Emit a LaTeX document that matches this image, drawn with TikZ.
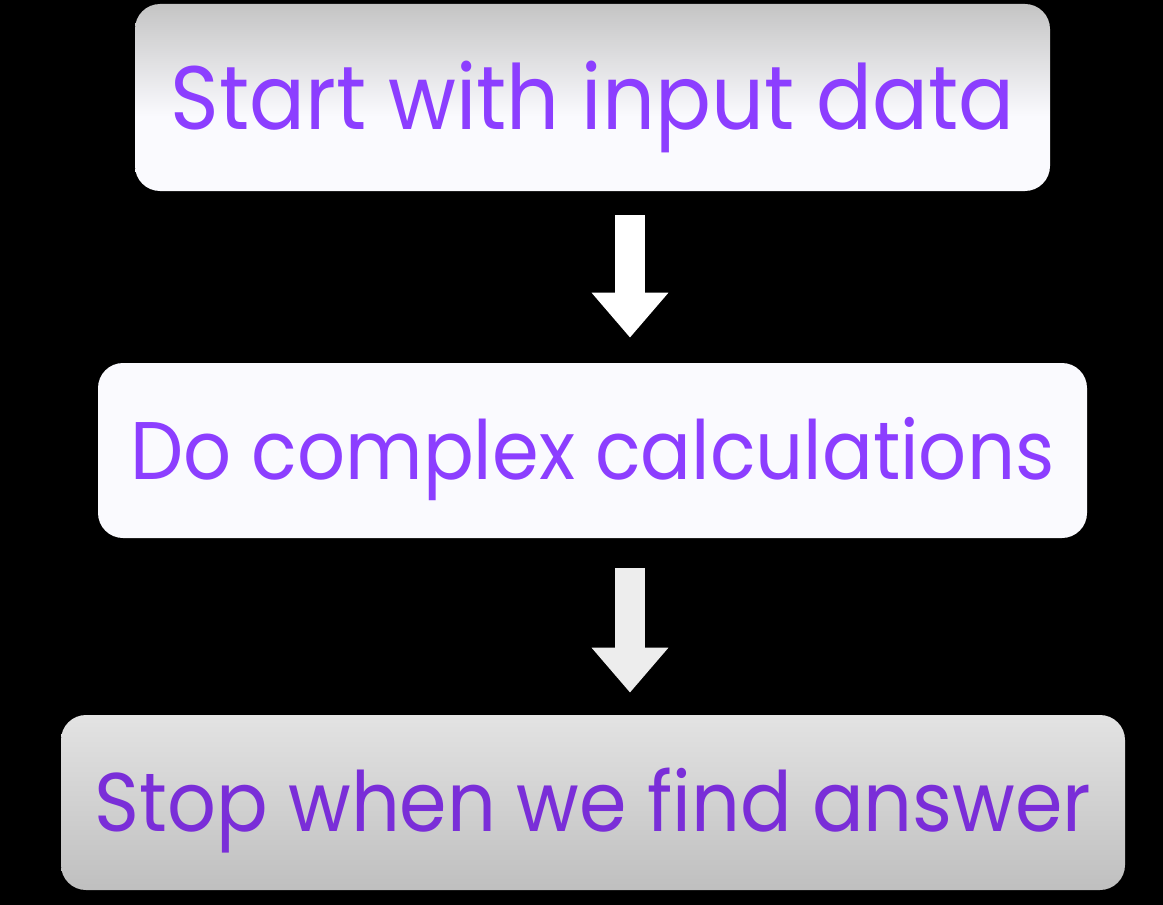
\documentclass[tikz,border=0pt]{standalone}
\usepackage{fontspec}
\setmainfont{Poppins}[FakeStretch=0.92]
\usetikzlibrary{arrows.meta}
\definecolor{boxpurple}{RGB}{140,62,255}
\definecolor{darkpurple}{RGB}{122,46,216}
\definecolor{offwhite}{RGB}{250,250,254}
\pgfdeclareverticalshading{topfade}{100bp}{color(0bp)=(offwhite); color(25bp)=(offwhite); color(45bp)=(offwhite); color(75bp)=(black!23); color(100bp)=(black!23)}
\begin{document}
\begin{tikzpicture}[>={Triangle[width=1.48cm,length=0.9cm]},
		stepbox/.style={rounded corners=0.5cm,inner sep=0pt,text=boxpurple,text depth=0pt},
		blockarrow/.style={->,line width=0.6cm}]
			\fill[black] (0,0) rectangle (23.26,-18.1);
			\node[stepbox,shading=topfade,font=\fontsize{51.2}{60}\selectfont,text height=36pt,minimum width=18.3cm,minimum height=3.74cm] (start) at (11.85,-1.95) {Start with input data};
			\node[stepbox,fill=offwhite,font=\fontsize{46.5}{56}\selectfont,text height=33pt,minimum width=19.78cm,minimum height=3.5cm] (calc) at (11.85,-9.01) {Do complex calculations};
			\node[stepbox,shade,top color=black!11,bottom color=black!25,text=darkpurple,font=\fontsize{47.3}{56}\selectfont,text height=33.5pt,minimum width=21.28cm,minimum height=3.5cm] (stop) at (11.86,-16.05) {Stop when we find answer};
			\coordinate (ax) at (12.6,0);
			\draw[blockarrow,white,shorten <=0.48cm,shorten >=0.5cm] (start.south -| ax) -- (calc.north -| ax);
			\draw[blockarrow,white!93!black,shorten <=0.6cm,shorten >=0.44cm] (calc.south -| ax) -- (stop.north -| ax);
		\end{tikzpicture}
\end{document}
